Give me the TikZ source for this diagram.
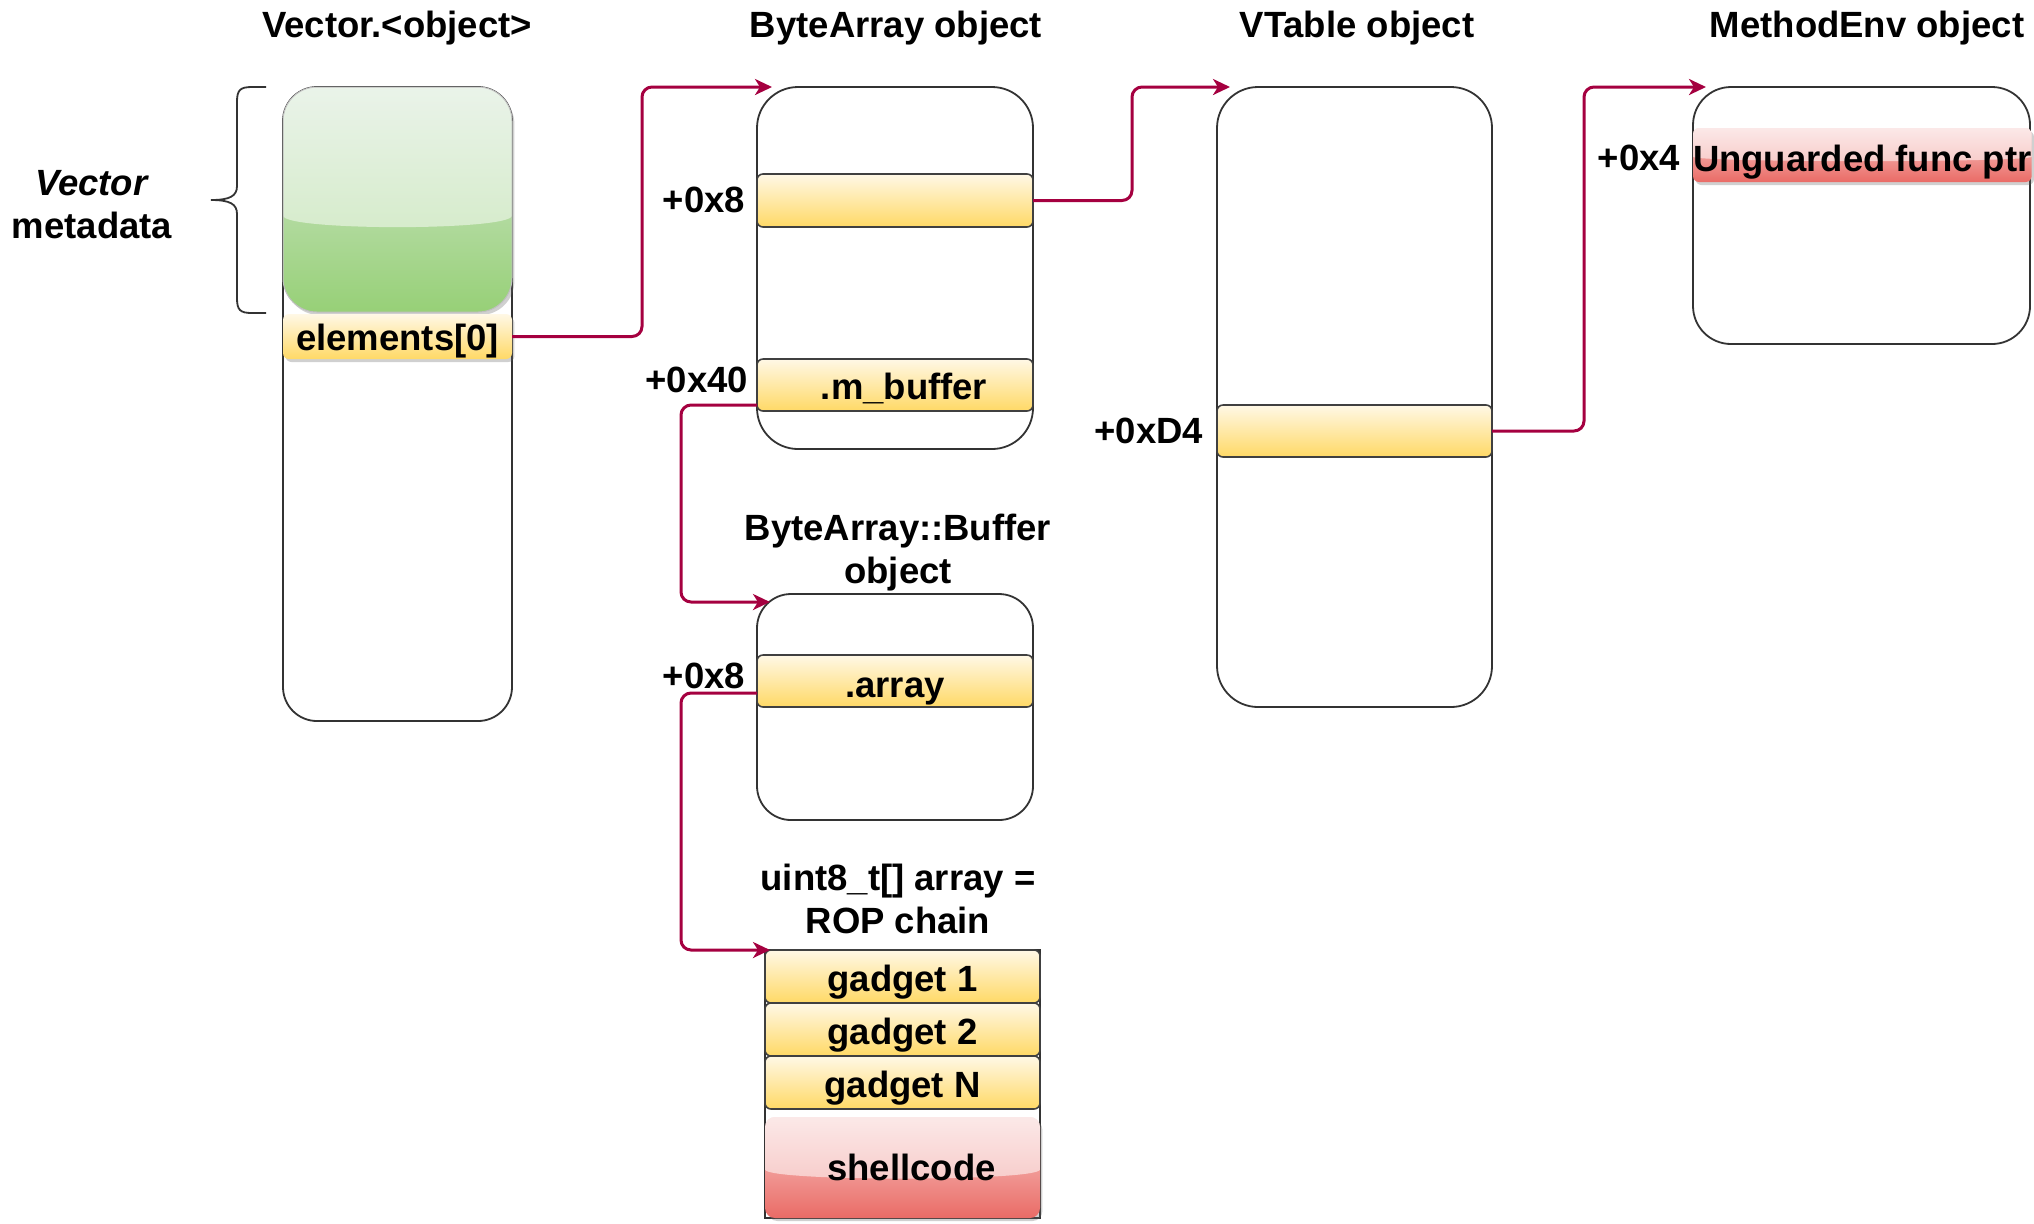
\documentclass[tikz,border=0pt]{standalone}
\usepackage{fontspec}
\setmainfont{Liberation Sans}
\usetikzlibrary{arrows.meta,calc,shadows}
\definecolor{conncol}{HTML}{A50040}
\definecolor{ytop}{HTML}{FFF8E6}
\definecolor{ybot}{HTML}{FFD966}
\definecolor{gtop}{HTML}{D5E8D4}
\definecolor{gbot}{HTML}{97D077}
\definecolor{rtop}{HTML}{F8CECC}
\definecolor{rbot}{HTML}{EA6B66}
\newcommand\lblfont{\fontsize{18.25}{21.5}\selectfont\bfseries}
\begin{document}
\begin{tikzpicture}[x=0.5pt,y=-0.5pt,
  every node/.style={font=\lblfont, inner sep=0pt, outer sep=0pt, text=black},
  objbox/.style={draw=black!80, line width=0.9pt, fill=white, anchor=north west},
  lowtext/.style={text height=#1, text depth=0pt},
  lowtext/.default=14.5pt,
  ybar/.style={draw=black!75, line width=0.8pt, rounded corners=3pt, top color=ytop, bottom color=ybot, anchor=north west, lowtext},
  shadowed/.style={drop shadow={shadow xshift=1.2pt, shadow yshift=-1.5pt, opacity=0.3, fill=black!60}},
  glass/.style={path picture={
    \path (path picture bounding box.north west) coordinate (gA)
          (path picture bounding box.south east) coordinate (gB);
    \fill[white, fill opacity=#1] (gA) -- (gA -| gB) -- ($(gA -| gB)!0.42!(gB)$)
      .. controls ($(gA -| gB)!0.64!(gB)$) and ($(gA)!0.64!(gA |- gB)$) .. ($(gA)!0.42!(gA |- gB)$) -- cycle;
  }},
  conn/.style={draw=conncol, line width=1.5pt, rounded corners=5pt, -{Stealth[length=8.5pt,width=8pt,inset=2.5pt]}},
  lbl/.style={anchor=east}
]
\useasboundingbox (0,0) rectangle (2034,1223);
\fill[white] (0,0) rectangle (2034,1223);

% titles
\node (tvec) at (397,28) {Vector.<object>};
\node (tba)  at (896,28) {ByteArray object};
\node (tvt)  at (1357,28) {VTable object};
\node (tme)  at (1867,28) {MethodEnv object};

% Vector object
\node[objbox, rounded corners=17pt, minimum width=114.5pt, minimum height=317pt] (vec) at (283,87) {};
\node[anchor=north west, rounded corners=17pt, minimum width=114.5pt, minimum height=112.5pt,
      top color=gtop, bottom color=gbot, draw=black!25, line width=0.5pt, shadowed, glass=0.5] (vgreen) at (283,87) {};
\node[anchor=north west, rounded corners=3pt, minimum width=114.5pt, minimum height=22.5pt,
      top color=ytop, bottom color=ybot, shadowed, lowtext=13.5pt] (elem) at (283,314) {elements[0]};

% brace + label
\draw[black!80, line width=0.9pt] (266,87) -- (252,87) .. controls (240,87) and (237,90) .. (237,102)
  -- (237,186) .. controls (237,196) and (230,200) .. (211,200)
  .. controls (230,200) and (237,204) .. (237,214) -- (237,298)
  .. controls (237,310) and (240,313) .. (252,313) -- (266,313);
\node[align=center] (vmeta) at (92,205) {\textit{Vector}\\metadata};

% ByteArray object
\node[objbox, rounded corners=20.5pt, minimum width=138pt, minimum height=181pt] (ba) at (757,87) {};
\node[ybar, minimum width=138pt, minimum height=26.5pt] (ba8) at (757,174) {};
\node[ybar, minimum width=138pt, minimum height=26pt] (mbuf) at (757,359) {\hspace{9pt}.m\_buffer};
\node[lbl] (o8a) at (745,200) {+0x8};
\node[lbl] (o40) at (748,380) {+0x40};

% ByteArray::Buffer object
\node[align=center] (tbuf) at (898,553) {ByteArray::Buffer\\object};
\node[objbox, rounded corners=17pt, minimum width=138pt, minimum height=113pt] (buf) at (757,594) {};
\node[ybar, minimum width=138pt, minimum height=26pt, lowtext=16pt] (arr) at (757,655) {.array};
\node[lbl] (o8b) at (745,676) {+0x8};

% ROP chain
\node[align=center] (trop) at (898,899) {uint8\_t[] array =\\ROP chain};
\node[objbox, minimum width=137.5pt, minimum height=134pt] (rop) at (765,950) {};
\node[ybar, minimum width=137.5pt, minimum height=26.5pt] (g1) at (765,950) {gadget 1};
\node[ybar, minimum width=137.5pt, minimum height=26.5pt] (g2) at (765,1003) {gadget 2};
\node[ybar, minimum width=137.5pt, minimum height=26.5pt] (gn) at (765,1056) {gadget N};
\node[anchor=north west, rounded corners=5pt, minimum width=137.5pt, minimum height=50.5pt,
      top color=rtop, bottom color=rbot, shadowed, glass=0.55] (shell) at (765,1117) {\hspace{9pt}shellcode};

% VTable object
\node[objbox, rounded corners=20.5pt, minimum width=137.5pt, minimum height=310pt] (vt) at (1217,87) {};
\node[ybar, minimum width=137.5pt, minimum height=26pt] (vbar) at (1217,405) {};
\node[lbl] (od4) at (1203,431) {+0xD4};

% MethodEnv object
\node[objbox, rounded corners=19pt, minimum width=168.5pt, minimum height=128.5pt] (me) at (1693,87) {};
\node[anchor=north west, rounded corners=3pt, minimum width=168.5pt, minimum height=27pt,
      top color=rtop, bottom color=rbot, shadowed, glass=0.55, lowtext=16.5pt] (ufp) at (1693,128) {Unguarded func ptr};
\node[lbl] (o4) at (1680,158) {+0x4};

% connectors
\draw[conn] (elem.east) -- ++(130,0) |- ([xshift=7.5pt]ba.north west);
\draw[conn] (ba8.east) -- ++(99,0) |- ([xshift=6.5pt]vt.north west);
\draw[conn] (vbar.east) -- ++(92,0) |- ([xshift=6.5pt]me.north west);
\draw[conn] ([yshift=-10pt]mbuf.west) -- ++(-76,0) |- ([xshift=6.5pt,yshift=-4pt]buf.north west);
\draw[conn] ([yshift=-6pt]arr.west) -- ++(-76,0) |- ([xshift=2.5pt]rop.north west);
\end{tikzpicture}
\end{document}
